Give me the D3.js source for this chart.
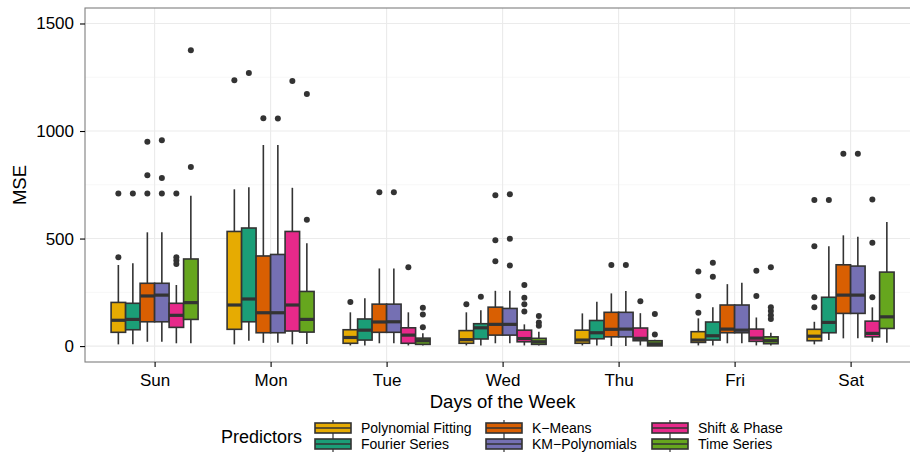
<!DOCTYPE html>
<html><head><meta charset="utf-8">
<script src="https://cdn.jsdelivr.net/npm/d3@7"></script>
<style>body{margin:0;background:#fff}svg{display:block;font-family:"Liberation Sans",Arial,sans-serif}</style>
</head><body><svg id="c" width="910" height="452"></svg>
<script>
const days = ["Sun","Mon","Tue","Wed","Thu","Fri","Sat"];
const predictors = ["Polynomial Fitting","Fourier Series","K\u2212Means","KM\u2212Polynomials","Shift & Phase","Time Series"];
const colors = ["#E6AB02","#1B9E77","#D95F02","#7570B3","#E7298A","#66A61E"];
const yTicks = [0,500,1000,1500];
const yMinor = [250,750,1250];
// per day: [lower whisker, Q1, median, Q3, upper whisker]
const polyStats   = [[8,64,120,203,377],[8,78,191,533,729],[3,13,40,76,157],[3,13,30,72,157],[3,13,28,74,152],[3,17,28,67,129],[8,25,46,78,113]];
const polyOut     = [[413,710],[1236],[205],[195],[],[155,233,347],[181,227,464,679]];
const fourierStats= [[8,76,124,199,385],[25,113,219,549,738],[3,28,74,126,222],[3,33,85,104,167],[3,34,62,119,206],[3,28,48,112,180],[28,62,110,227,464]];
const fourierOut  = [[710],[1270],[],[229],[],[322,387],[679]];
const kmeansStats = [[20,113,233,292,529],[15,62,155,419,935],[13,64,112,195,361],[13,51,101,181,257],[0,43,78,157,245],[13,62,79,191,288],[36,152,237,378,515]];
const kmeansOut   = [[710,794,950],[1059],[715],[395,492,701],[377],[],[894]];
const kmpolyStats = [[20,113,237,292,529],[15,62,155,426,935],[13,64,113,195,361],[13,51,101,175,257],[0,43,79,157,256],[13,62,74,191,295],[36,152,237,372,508]];
const kmpolyOut   = [[710,781,957],[1058],[715],[375,499,706],[377],[],[894]];
const shiftStats  = [[13,87,143,199,284],[8,70,191,533,736],[3,13,51,85,157],[3,20,35,74,101],[3,25,36,84,153],[3,22,37,79,133],[20,43,59,116,180]];
const shiftOut    = [[382,398,413,710],[1233],[367],[161,194,225,284],[209],[233,350],[227,480,682]];
const timeStats   = [[13,124,202,405,699],[10,65,124,254,478],[3,8,25,37,60],[3,8,20,36,67],[1,1,10,25,30],[3,11,25,43,62],[15,82,136,344,577]];
const timeOut     = [[833,1375],[587,1172],[87,147,178],[94,110,140],[54,149],[126,143,163,180,366],[]];

const allStats = [polyStats,fourierStats,kmeansStats,kmpolyStats,shiftStats,timeStats];
const allOut = [polyOut,fourierOut,kmeansOut,kmpolyOut,shiftOut,timeOut];

const svg = d3.select("#c");
const L=85, R=920.2, T=8, B=362;
const x = d3.scalePoint().domain(days).range([L,R]).padding(0.6);
const y = d3.scaleLinear().domain([-74,1572]).range([B,T]);
const dodge = d3.scaleBand().domain(predictors).range([-x.step()*0.375, x.step()*0.375]);

const g = svg.append("g");
g.append("rect").attr("x",L).attr("y",T).attr("width",R-L).attr("height",B-T).attr("fill","#fff");
g.selectAll(".mi").data(yMinor).join("line").attr("x1",L).attr("x2",R).attr("y1",d=>y(d)).attr("y2",d=>y(d)).attr("stroke","#F2F2F2").attr("stroke-width",0.6);
g.selectAll(".ma").data(yTicks).join("line").attr("x1",L).attr("x2",R).attr("y1",d=>y(d)).attr("y2",d=>y(d)).attr("stroke","#EBEBEB").attr("stroke-width",1.1);
g.selectAll(".mx").data(days).join("line").attr("x1",d=>x(d)).attr("x2",d=>x(d)).attr("y1",T).attr("y2",B).attr("stroke","#EBEBEB").attr("stroke-width",1.1);

const ink="#333333";
predictors.forEach((p,pi)=>{
  days.forEach((d,di)=>{
    const s = allStats[pi][di];
    const x0 = x(d)+dodge(p), w = dodge.bandwidth(), cx = x0+w/2;
    const bg = g.append("g");
    bg.append("line").attr("x1",cx).attr("x2",cx).attr("y1",y(s[0])).attr("y2",y(s[1])).attr("stroke",ink).attr("stroke-width",1.6);
    bg.append("line").attr("x1",cx).attr("x2",cx).attr("y1",y(s[3])).attr("y2",y(s[4])).attr("stroke",ink).attr("stroke-width",1.6);
    bg.append("rect").attr("x",x0).attr("y",y(s[3])).attr("width",w).attr("height",Math.max(0.5,y(s[1])-y(s[3]))).attr("fill",colors[pi]).attr("stroke",ink).attr("stroke-width",1.6);
    bg.append("line").attr("x1",x0).attr("x2",x0+w).attr("y1",y(s[2])).attr("y2",y(s[2])).attr("stroke",ink).attr("stroke-width",3.2);
    bg.selectAll("circle").data(allOut[pi][di]).join("circle").attr("cx",cx).attr("cy",v=>y(v)).attr("r",3).attr("fill",ink);
  });
});
// panel border
g.append("rect").attr("x",L).attr("y",T).attr("width",R-L).attr("height",B-T).attr("fill","none").attr("stroke","#7F7F7F").attr("stroke-width",1.1);

// axes
const ya = svg.append("g").attr("transform",`translate(${L},0)`).call(d3.axisLeft(y).tickValues(yTicks).tickFormat(d3.format("d")).tickSize(5).tickPadding(6));
ya.select(".domain").remove();
ya.selectAll("line").attr("stroke","#000").attr("stroke-width",1.1);
ya.selectAll("text").attr("font-size",17).attr("fill","#000").attr("font-family","Liberation Sans, Arial, sans-serif");
const xa = svg.append("g").attr("transform",`translate(0,${B})`).call(d3.axisBottom(x).tickSize(5).tickPadding(7));
xa.select(".domain").remove();
xa.selectAll("line").attr("stroke","#000").attr("stroke-width",1.1);
xa.selectAll("text").attr("font-size",17).attr("fill","#000").attr("font-family","Liberation Sans, Arial, sans-serif");

svg.append("text").attr("transform",`translate(26,${(T+B)/2}) rotate(-90)`).attr("text-anchor","middle").attr("font-size",18.5).text("MSE");
svg.append("text").attr("x",(L+R)/2).attr("y",408).attr("text-anchor","middle").attr("font-size",18.5).text("Days of the Week");

// legend
const lg = svg.append("g");
lg.append("text").attr("x",221).attr("y",443).attr("font-size",18).text("Predictors");
const colX=[314,485,651], rowY=[420,436];
predictors.forEach((p,i)=>{
  const cx0 = colX[Math.floor(i/2)], ry = rowY[i%2];
  const k = lg.append("g").attr("transform",`translate(${cx0},${ry})`);
  k.append("line").attr("x1",19).attr("x2",19).attr("y1",0).attr("y2",16).attr("stroke",ink).attr("stroke-width",1.2);
  k.append("rect").attr("x",1).attr("y",3).attr("width",36).attr("height",10).attr("fill",colors[i]).attr("stroke",ink).attr("stroke-width",1.6);
  k.append("line").attr("x1",1).attr("x2",37).attr("y1",8).attr("y2",8).attr("stroke",ink).attr("stroke-width",1.6);
  lg.append("text").attr("x",cx0+47).attr("y",ry+13).attr("font-size",14).text(p);
});
</script></body></html>
